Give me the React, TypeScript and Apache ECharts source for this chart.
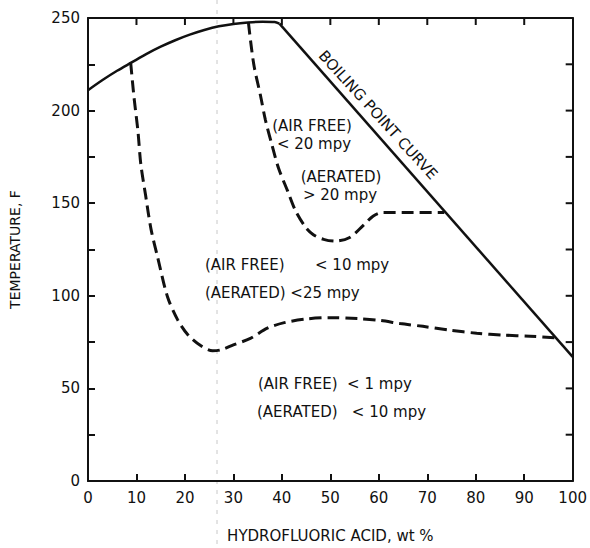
import React, { useEffect, useRef } from "react";
import * as echarts from "echarts";

const xTicks = [0, 10, 20, 30, 40, 50, 60, 70, 80, 90, 100];
const yTickLabels = [0, 50, 100, 150, 200, 250];
const yTicks = [0, 25, 50, 75, 100, 125, 150, 175, 200, 225, 250];

const boilingCurved: [number, number][] = [
  [0, 211], [3, 216.5], [6, 221.5], [9, 226], [12, 230.5], [15, 234.5],
  [18, 238], [21, 241], [24, 243.5], [27, 245.5], [30, 246.8], [33, 247.6],
  [36, 248], [38.5, 247.8], [39.5, 247],
];
const boilingStraight: [number, number][] = [
  [39.5, 247], [100, 67],
];

const lowerBoundary: [number, number][] = [
  [8.8, 226], [9.5, 207], [10.3, 189], [10.9, 171], [11.9, 154], [13, 136],
  [14.4, 120.5], [16.4, 99.5], [18.5, 87], [20.6, 79], [23.3, 73], [25.7, 70.3],
  [27.4, 70.8], [30, 73.5], [33.5, 77], [37, 82.5], [40.5, 85.5], [45, 87.5],
  [50, 88.2], [55.6, 87.7], [60.3, 86.7], [64.4, 85], [69.1, 83.5], [74.7, 81.4],
  [80.2, 79.8], [85.6, 78.8], [91.2, 78.2], [96.5, 77.3],
];

const upperBoundary: [number, number][] = [
  [33.1, 247.5], [34.2, 225], [35.6, 208], [36.6, 195], [38, 181], [39.3, 169],
  [41.2, 156.5], [42.8, 146], [44.9, 137], [46.5, 133], [48.6, 130.5], [51, 129.5],
  [54, 131.5], [56.8, 138], [58.8, 143], [60.7, 145], [67, 145], [73.5, 145],
];

const regionLabels = [
  "(AIR FREE)", "< 20 mpy", "(AERATED)", "> 20 mpy",
  "(AIR FREE)", "< 10 mpy", "(AERATED) <25 mpy",
  "(AIR FREE)  < 1 mpy", "(AERATED)   < 10 mpy",
];

const FONT = "DejaVu Sans";
const INK = "#111";

export default function App() {
  const ref = useRef<HTMLDivElement>(null);
  useEffect(() => {
    if (!ref.current) return;
    const chart = echarts.init(ref.current, null, { renderer: "svg" });
    const labelPos: [number, number, string][] = [
      [312, 126, "center"], [314, 144, "center"], [341, 177, "center"], [340, 195, "center"],
      [205, 265, "left"], [315, 265, "left"], [205, 293, "left"],
      [258, 384, "left"], [257, 412, "left"],
    ];
    const texts = regionLabels.map((t, i) => ({
      type: "text",
      x: labelPos[i][0],
      y: labelPos[i][1],
      style: {
        text: t,
        fill: INK,
        font: `15px "${FONT}"`,
        textAlign: labelPos[i][2],
        textVerticalAlign: "middle",
      },
    }));
    const lineOnly = {
      axisLine: { show: true, onZero: false, lineStyle: { color: INK, width: 2 } },
      splitLine: { show: false },
    };
    const tickStyle = { show: true, inside: true, length: 7, lineStyle: { color: INK, width: 2 } };
    const solid = { color: INK, width: 2.5 };
    const dashed = { color: INK, width: 3, type: [12, 6] };
    const TL = 7;
    chart.setOption({
      animation: false,
      backgroundColor: "#fff",
      grid: { left: 87, right: 17, top: 18, bottom: 57 },
      xAxis: [
        {
          type: "value", min: 0, max: 100, interval: 10, position: "bottom",
          ...lineOnly,
          axisTick: tickStyle,
          axisLabel: {
            color: INK, fontSize: 15, fontFamily: FONT, margin: 9,
            formatter: (v: number) => (xTicks.includes(v) ? String(v) : ""),
          },
          name: "HYDROFLUORIC ACID, wt %",
          nameLocation: "middle",
          nameGap: 47,
          nameTextStyle: { color: INK, fontSize: 15, fontFamily: FONT },
        },
        {
          type: "value", min: 0, max: 100, interval: 10, position: "top",
          ...lineOnly,
          axisTick: { show: false },
          axisLabel: { show: false },
        },
      ],
      yAxis: [
        {
          type: "value", min: 0, max: 250, interval: 25, position: "left",
          ...lineOnly,
          axisTick: tickStyle,
          axisLabel: {
            color: INK, fontSize: 15, fontFamily: FONT, margin: 8,
            formatter: (v: number) => (yTickLabels.includes(v) ? String(v) : ""),
          },
          name: "TEMPERATURE, F",
          nameLocation: "middle",
          nameGap: 66,
          nameTextStyle: { color: INK, fontSize: 14, fontFamily: FONT },
        },
        {
          type: "value", min: 0, max: 250, interval: 25, position: "right",
          ...lineOnly,
          axisTick: { show: false },
          axisLabel: { show: false },
        },
      ],
      series: [
        { type: "line", data: boilingCurved, smooth: 0.3, symbol: "none", lineStyle: solid },
        { type: "line", data: boilingStraight, smooth: false, symbol: "none", lineStyle: solid },
        { type: "line", data: lowerBoundary, smooth: 0.3, symbol: "none", lineStyle: dashed },
        { type: "line", data: upperBoundary, smooth: 0.3, symbol: "none", lineStyle: dashed },
        {
          type: "custom",
          silent: true,
          data: xTicks.slice(1, -1).map((v) => [v, 250]),
          renderItem: (_p: any, api: any) => {
            const pt = api.coord([api.value(0), api.value(1)]);
            return {
              type: "line",
              shape: { x1: pt[0], y1: pt[1], x2: pt[0], y2: pt[1] + TL },
              style: { stroke: INK, lineWidth: 2 },
            };
          },
        },
        {
          type: "custom",
          silent: true,
          data: yTicks.slice(1, -1).map((v) => [100, v]),
          renderItem: (_p: any, api: any) => {
            const pt = api.coord([api.value(0), api.value(1)]);
            return {
              type: "line",
              shape: { x1: pt[0], y1: pt[1], x2: pt[0] - TL, y2: pt[1] },
              style: { stroke: INK, lineWidth: 2 },
            };
          },
        },
      ],
      graphic: [
        {
          type: "line",
          shape: { x1: 217, y1: 0, x2: 217, y2: 548 },
          style: { stroke: "#c8c8c8", lineWidth: 1, lineDash: [4, 6] },
          silent: true,
        },
        ...texts,
        {
          type: "text",
          x: 378,
          y: 115,
          rotation: -0.833,
          style: {
            text: "BOILING POINT CURVE",
            fill: INK,
            font: `15px "${FONT}"`,
            textAlign: "center",
            textVerticalAlign: "middle",
          },
        },
      ],
    });
    return () => chart.dispose();
  }, []);
  return (
    <div
      ref={ref}
      style={{ position: "fixed", left: 0, top: 0, width: 590, height: 548, background: "#fff" }}
    />
  );
}
